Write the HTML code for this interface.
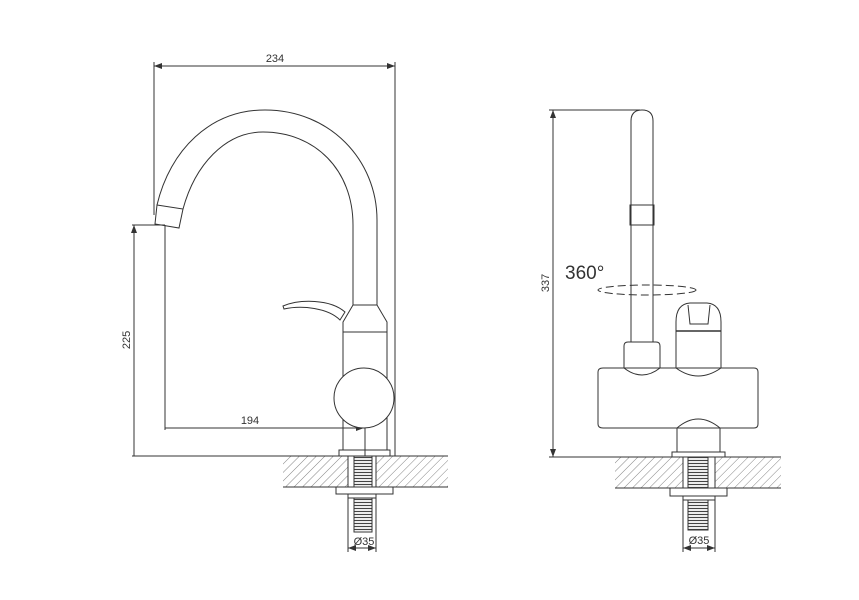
<!DOCTYPE html>
<html><head><meta charset="utf-8"><style>
html,body{margin:0;padding:0;background:#fff;}
svg{display:block;}
text{font-family:"Liberation Sans",sans-serif;fill:#333;}
</style></head><body>
<svg width="859" height="600" viewBox="0 0 859 600" xmlns="http://www.w3.org/2000/svg">
<defs>
<pattern id="h" width="6" height="6" patternUnits="userSpaceOnUse" patternTransform="rotate(45)">
<line x1="0" y1="0" x2="0" y2="6" stroke="#666" stroke-width="0.8"/>
</pattern>
<pattern id="t" width="4" height="3" patternUnits="userSpaceOnUse">
<line x1="0" y1="1.5" x2="4" y2="1.5" stroke="#444" stroke-width="1.2"/>
</pattern>
<marker id="a" markerWidth="8" markerHeight="6" refX="8" refY="3" orient="auto-start-reverse" markerUnits="userSpaceOnUse">
<path d="M0,0 L8,3 L0,6 z" fill="#333"/>
</marker>
</defs>
<g fill="none" stroke="#333" stroke-width="1">
<line x1="154" y1="66" x2="395" y2="66" marker-start="url(#a)" marker-end="url(#a)"/>
<line x1="154" y1="62" x2="154" y2="215"/>
<line x1="395" y1="62" x2="395" y2="456"/>
<line x1="132" y1="225" x2="165" y2="225"/>
<line x1="134" y1="225" x2="134" y2="456" marker-start="url(#a)"/>
<line x1="165" y1="225" x2="165" y2="430"/>
<line x1="132" y1="456" x2="340" y2="456"/>
<line x1="165" y1="428" x2="364" y2="428" marker-end="url(#a)"/>
<line x1="365" y1="428" x2="365" y2="456"/>
<path d="M157,205 C170,150 210,110 265,110 C330,110 377,160 377,220 L377,305"/>
<path d="M183,209 C195,165 225,132 263,132 C315,132 353,170 353,225 L353,305"/>
<path d="M157,205 L183,209 L179,228 L155,224 Z"/>
<path d="M353,305 L377,305 L387,322 L387,332 L343,332 L343,322 Z"/>
<path d="M283,306 C300,299 330,299 345,312 L340,320 C328,308 302,305 284,309 Z"/>
<rect x="343" y="332" width="44" height="118"/>
<circle cx="364" cy="398" r="30" fill="#fff"/>
<rect x="339" y="450" width="51" height="6"/>
<rect x="283" y="456" width="165" height="31" fill="url(#h)" stroke="none"/>
<line x1="283" y1="456" x2="448" y2="456"/>
<line x1="283" y1="487" x2="448" y2="487"/>
<rect x="348" y="456" width="28" height="31" fill="#fff"/>
<rect x="354" y="456" width="18" height="31" fill="url(#t)"/>
<rect x="336" y="487" width="57" height="7" fill="#fff"/>
<rect x="348" y="494" width="28" height="4" fill="#fff"/>
<rect x="354" y="498" width="18" height="34" fill="url(#t)"/>
<line x1="348" y1="498" x2="348" y2="552"/>
<line x1="376" y1="498" x2="376" y2="552"/>
<line x1="348" y1="548" x2="376" y2="548" marker-start="url(#a)" marker-end="url(#a)"/>

<line x1="553" y1="110" x2="553" y2="457" marker-start="url(#a)" marker-end="url(#a)"/>
<line x1="549" y1="110" x2="640" y2="110"/>
<line x1="549" y1="457" x2="672" y2="457"/>
<path d="M631,342 L631,121 Q631,110 642,110 Q653,110 653,121 L653,342"/>
<rect x="630" y="205" width="24" height="20"/>
<path d="M624,368 L624,346 Q624,342 628,342 L656,342 Q660,342 660,346 L660,368"/>
<path d="M624,368 Q642,382 660,368"/>
<path d="M676,368 L676,322 Q676,304 690,303 L707,303 Q721,304 721,322 L721,368"/>
<line x1="676" y1="331" x2="721" y2="331" stroke-width="1.5"/>
<path d="M688,305 L690,324 L708,324 L710,305"/>
<path d="M676,368 Q698,384 721,368"/>
<path d="M603,368 L754,368 Q758,368 758,372 L758,424 Q758,428 754,428 L603,428 Q598,428 598,424 L598,372 Q598,368 603,368 Z"/>
<path d="M677,452 L677,428 Q698,410 720,428 L720,452"/>
<rect x="672" y="452" width="53" height="5"/>
<rect x="615" y="457" width="166" height="31" fill="url(#h)" stroke="none"/>
<line x1="615" y1="457" x2="781" y2="457"/>
<line x1="615" y1="488" x2="781" y2="488"/>
<rect x="683" y="457" width="32" height="31" fill="#fff"/>
<rect x="688" y="457" width="20" height="31" fill="url(#t)"/>
<rect x="670" y="488" width="57" height="8" fill="#fff"/>
<rect x="683" y="496" width="32" height="4" fill="#fff"/>
<rect x="688" y="500" width="20" height="30" fill="url(#t)"/>
<line x1="683" y1="500" x2="683" y2="552"/>
<line x1="715" y1="500" x2="715" y2="552"/>
<line x1="683" y1="548" x2="715" y2="548" marker-start="url(#a)" marker-end="url(#a)"/>
<ellipse cx="647" cy="290" rx="49" ry="5" stroke-dasharray="8,4"/>
</g>
<g font-size="11">
<text x="275" y="62" text-anchor="middle">234</text>
<text x="250" y="424" text-anchor="middle">194</text>
<text transform="translate(130,340) rotate(-90)" text-anchor="middle">225</text>
<text x="364" y="545" text-anchor="middle">Ø35</text>
<text transform="translate(549,283) rotate(-90)" text-anchor="middle">337</text>
<text x="699" y="544" text-anchor="middle">Ø35</text>
</g>
<text x="565" y="279" font-size="19">360°</text>
</svg>
</body></html>
